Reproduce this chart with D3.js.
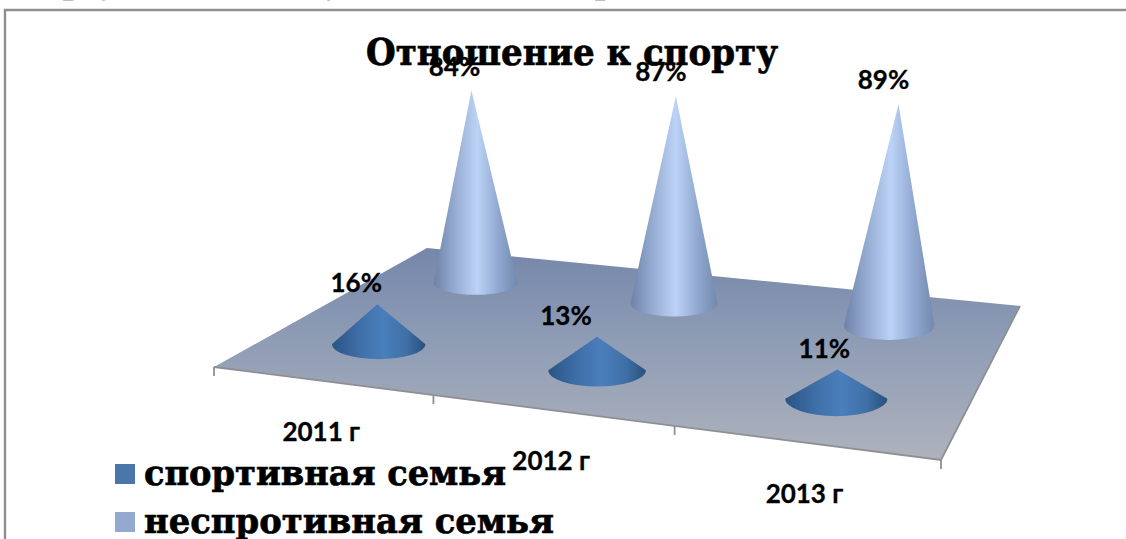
<!DOCTYPE html>
<html>
<head>
<meta charset="utf-8">
<script src="https://cdnjs.cloudflare.com/ajax/libs/d3/7.8.5/d3.min.js"></script>
<style>
	html, body { margin: 0; padding: 0; background: #fff; overflow: hidden; }
	svg { display: block; }
	.label { font-family: Lato, "Open Sans", sans-serif; font-weight: 700; fill: #000; stroke: #000; stroke-width: 0.3px; }
	.serif { font-family: "DejaVu Serif", serif; font-weight: 700; fill: #000; stroke: #000; stroke-width: 0.7px; }
</style>
</head>
<body>
<div id="chart"></div>
<script>
const categories = ["2011 г", "2012 г", "2013 г"];
const seriesNames = ["спортивная семья", "неспротивная семья"];
const sportFamily = [16, 13, 11];
const nonSportFamily = [84, 87, 89];
const chartTitle = "Отношение к спорту";
const cutOffLetters = ["р", "у", "у", "р"];

const width = 1126, height = 539;

var svg = d3.select("#chart").append("svg")
	.attr("width", width)
	.attr("height", height)

var defs = svg.append("defs")

function addGradient(id, stops, x1, y1, x2, y2){
	var g = defs.append("linearGradient").attr("id", id)
		.attr("x1", x1).attr("y1", y1).attr("x2", x2).attr("y2", y2)
	stops.forEach(function(s){
		g.append("stop").attr("offset", s[0]).attr("stop-color", s[1])
	})
}
addGradient("floorFill", [[0, "#7587aa"], [0.5, "#929fb6"], [1, "#aeb2bc"]], 0, 0, 0, 1)
addGradient("coneBack", [[0, "#6e82a6"], [0.2, "#8ea3c9"], [0.52, "#bcd3f7"], [0.78, "#8fa7cf"], [1, "#7388ac"]], 0, 0, 1, 0)
addGradient("coneFront", [[0, "#2a5485"], [0.3, "#3f6fa8"], [0.55, "#4a7fbc"], [0.8, "#3f6fa6"], [1, "#28507e"]], 0, 0, 1, 0)

// floor corners on the page, used for a unit square -> screen projection
const corners = {x0: 214, y0: 367, x1: 941, y1: 460, x2: 1020, y2: 306, x3: 427, y3: 248};

function makeProjection(c){
	var dx1 = c.x1 - c.x2, dx2 = c.x3 - c.x2, sx = c.x0 - c.x1 + c.x2 - c.x3
	var dy1 = c.y1 - c.y2, dy2 = c.y3 - c.y2, sy = c.y0 - c.y1 + c.y2 - c.y3
	var det = dx1 * dy2 - dx2 * dy1
	var g = (sx * dy2 - dx2 * sy) / det
	var h = (dx1 * sy - sx * dy1) / det
	var a = c.x1 - c.x0 + g * c.x1, b = c.x3 - c.x0 + h * c.x3
	var d = c.y1 - c.y0 + g * c.y1, e = c.y3 - c.y0 + h * c.y3
	return function(u, v){
		var w = g * u + h * v + 1
		return [(a * u + b * v + c.x0) / w, (d * u + e * v + c.y0) / w]
	}
}
var project = makeProjection(corners)

var x = d3.scaleBand().domain(categories).range([0, 1])
var depth = d3.scaleBand().domain(seriesNames).range([0, 1])

// things get bigger towards the viewer, keyed on the y of the base
var unitHeight = d3.scaleLinear().domain([283, 303, 328, 345, 398]).range([2.29, 2.38, 2.5, 2.5, 2.64])
var radiusX = d3.scaleLinear().domain([283, 398]).range([42, 51])
var radiusY = d3.scaleLinear().domain([283, 398]).range([12, 17.5])

// frame
svg.append("path")
	.attr("d", "M5," + height + "V10H" + width)
	.attr("fill", "none")
	.attr("stroke", "#8f8f8f")
	.attr("stroke-width", 2.4)

// bits of the line of text above that was cut off
svg.selectAll(".cut")
	.data(cutOffLetters)
	.enter().append("text")
	.attr("class", "serif")
	.attr("x", function(d, i){ return [73, 108, 333, 605][i] })
	.attr("y", -6.5)
	.attr("text-anchor", "middle")
	.style("font-size", "30px")
	.text(function(d){ return d })

svg.append("text")
	.attr("class", "serif")
	.attr("x", 366)
	.attr("y", 65)
	.attr("textLength", 412)
	.attr("lengthAdjust", "spacingAndGlyphs")
	.style("font-size", "37px")
	.text(chartTitle)

// floor
var c = corners
svg.append("polygon")
	.attr("points", [[c.x0, c.y0], [c.x1, c.y1], [c.x2, c.y2], [c.x3, c.y3]].join(" "))
	.attr("fill", "url(#floorFill)")

svg.append("polyline")
	.attr("points", [[c.x0, c.y0], [c.x1, c.y1], [c.x2, c.y2]].join(" "))
	.attr("fill", "none")
	.attr("stroke", "#8e8f92")
	.attr("stroke-width", 1.8)

var tickPositions = [0, 1 / 3, 2 / 3, 1]
svg.selectAll(".tick")
	.data(tickPositions)
	.enter().append("line")
	.attr("x1", function(d){ return project(d, 0)[0] })
	.attr("x2", function(d){ return project(d, 0)[0] })
	.attr("y1", function(d){ return project(d, 0)[1] })
	.attr("y2", function(d){ return project(d, 0)[1] + 9 })
	.attr("stroke", "#8e8f92")
	.attr("stroke-width", 1.8)

svg.selectAll(".catLabel")
	.data(categories)
	.enter().append("text")
	.attr("class", "label")
	.attr("x", function(d){ return project(x(d) + x.bandwidth() / 2, 0)[0] })
	.attr("y", function(d){ return project(x(d) + x.bandwidth() / 2, 0)[1] + 60 })
	.attr("text-anchor", "middle")
	.style("font-size", "26px")
	.text(function(d){ return d })

function buildCones(name, values, fill, labelDx, labelDy){
	var cones = values.map(function(value, i){
		var base = project(x(categories[i]) + x.bandwidth() / 2, depth(name) + depth.bandwidth() / 2)
		var h = value * unitHeight(base[1])
		// verticals lean out a little from the middle of the plot
		var tipX = base[0] + (base[0] - 613) * h * 0.000153
		return {value: value, x: base[0], y: base[1], tipX: tipX, tipY: base[1] - h, rx: radiusX(base[1]), ry: radiusY(base[1])}
	})

	svg.selectAll(".cone" + fill)
		.data(cones)
		.enter().append("path")
		.attr("d", function(d){
			return "M" + (d.x - d.rx) + "," + d.y + "L" + d.tipX + "," + d.tipY + "L" + (d.x + d.rx) + "," + d.y
				+ "A" + d.rx + "," + d.ry + " 0 0 1 " + (d.x - d.rx) + "," + d.y + "Z"
		})
		.attr("fill", "url(#" + fill + ")")

	return cones.map(function(d, i){
		return {text: d.value + "%", x: d.tipX + labelDx[i], y: d.tipY + labelDy}
	})
}

var backLabels = buildCones(seriesNames[1], nonSportFamily, "coneBack", [-17, -15, -15], -15)
var frontLabels = buildCones(seriesNames[0], sportFamily, "coneFront", [-21, -31, -13], -12)

svg.selectAll(".valueLabel")
	.data(backLabels.concat(frontLabels))
	.enter().append("text")
	.attr("class", "label")
	.attr("x", function(d){ return d.x })
	.attr("y", function(d){ return d.y })
	.attr("text-anchor", "middle")
	.style("font-size", "26px")
	.text(function(d){ return d.text })

// legend
var legendColors = ["#4a76aa", "#93a9d0"]
var legendY = d3.scalePoint().domain(seriesNames).range([485, 533])

var legend = svg.selectAll(".legendItem")
	.data(seriesNames)
	.enter().append("g")

legend.append("rect")
	.attr("x", 115)
	.attr("y", function(d){ return legendY(d) - 21 })
	.attr("width", 20)
	.attr("height", 20)
	.attr("fill", function(d, i){ return legendColors[i] })

legend.append("text")
	.attr("class", "serif")
	.attr("x", 144)
	.attr("y", function(d){ return legendY(d) })
	.attr("textLength", function(d, i){ return [362, 410][i] })
	.attr("lengthAdjust", "spacingAndGlyphs")
	.style("font-size", "36px")
	.text(function(d){ return d })
</script>
</body>
</html>
